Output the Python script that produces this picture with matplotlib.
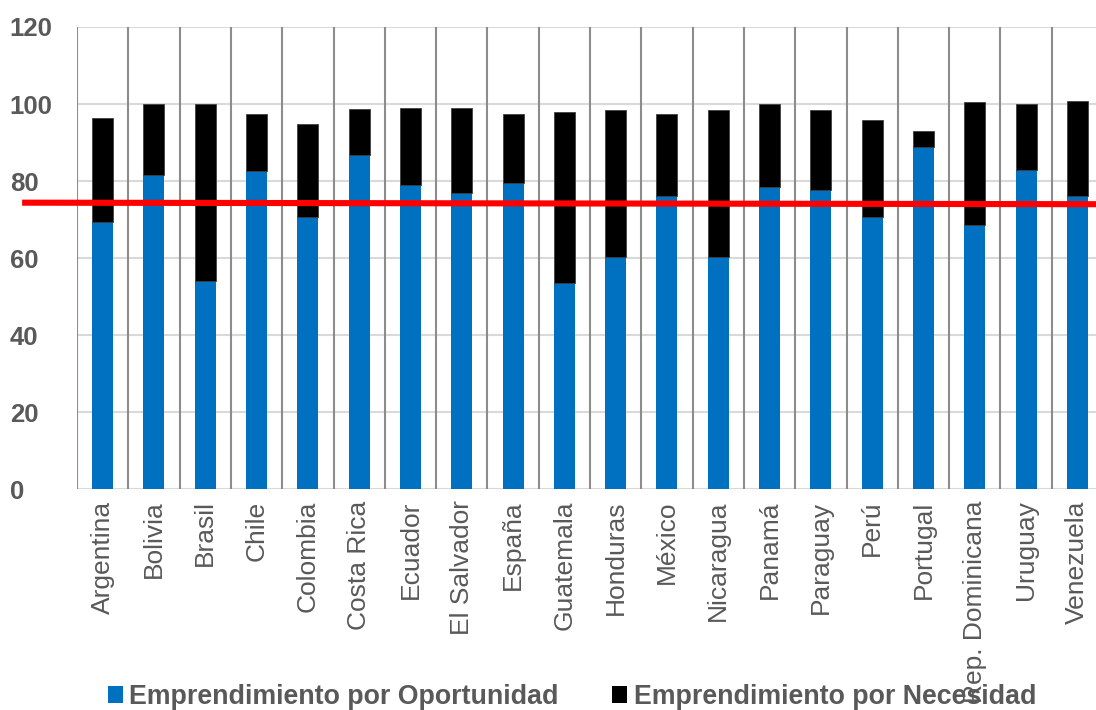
import matplotlib
matplotlib.use("Agg")
import matplotlib.pyplot as plt
from matplotlib.patches import Patch

plt.rcParams['font.family'] = ['Liberation Sans', 'DejaVu Sans']

paises = ["Argentina", "Bolivia", "Brasil", "Chile", "Colombia", "Costa Rica",
          "Ecuador", "El Salvador", "España", "Guatemala", "Honduras", "México",
          "Nicaragua", "Panamá", "Paraguay", "Perú", "Portugal",
          "Rep. Dominicana", "Uruguay", "Venezuela"]
oportunidad = [69.5, 81.6, 54.0, 82.7, 70.8, 86.9, 79.1, 77.0, 79.6, 53.5,
               60.2, 76.2, 60.2, 78.4, 77.6, 70.8, 88.9, 68.6, 83.0, 76.1]
necesidad = [26.9, 18.4, 46.0, 14.7, 24.0, 11.9, 20.0, 22.0, 17.7, 44.5,
             38.2, 21.1, 38.2, 21.5, 20.8, 25.1, 4.1, 31.9, 16.9, 24.6]
promedio = [74.4, 74.0]  # reference line, left end / right end
yticks = [0, 20, 40, 60, 80, 100, 120]

gris = "#595959"
azul = "#0070C0"

fig = plt.figure(figsize=(10.96, 7.10), dpi=100)
ax = fig.add_axes([77 / 1096, 220.7 / 710, 1026 / 1096, 462.3 / 710])

x = list(range(len(paises)))
ax.bar(x, oportunidad, width=0.41, color=azul, zorder=3)
ax.bar(x, necesidad, bottom=oportunidad, width=0.41, color="black",
       edgecolor="#404040", linewidth=0.6, zorder=3)

ax.set_xlim(-0.5, len(paises) - 0.5)
ax.set_ylim(0, 120)
ax.set_yticks(yticks)
ax.set_yticklabels([str(v) for v in yticks], fontsize=18.5, fontweight="bold",
                   color=gris, ha="left")
ax.tick_params(axis="y", length=0, pad=48.5)
ax.set_xticks(x)
ax.set_xticklabels(paises, rotation=90, fontsize=19, color=gris, va="top")
ax.tick_params(axis="x", length=0, pad=8)

for s in ax.spines.values():
    s.set_visible(False)

# horizontal gridlines (light) and category separators (dark)
for v in yticks:
    ax.axhline(v, color="#d9d9d9", linewidth=1.5, zorder=1)
for i in range(len(paises) + 1):
    ax.axvline(i - 0.5, color="#8c8c8c", linewidth=1.5, zorder=2)

# average line drawn across the chart
ax.plot([-1.57, len(paises) - 0.5], promedio, color="#FF0000", linewidth=4.4,
        solid_capstyle="butt", clip_on=False, zorder=5)

handles = [Patch(facecolor=azul, edgecolor="none"),
           Patch(facecolor="black", edgecolor="none")]
leg = fig.legend(handles, ["Emprendimiento por Oportunidad",
                           "Emprendimiento por Necesidad"],
                 loc="center", bbox_to_anchor=(0.522, 0.019), ncol=2,
                 frameon=False, handlelength=0.55, handleheight=0.6,
                 handletextpad=0.25, columnspacing=2.0,
                 prop={"size": 19.3, "weight": "bold"})
for t in leg.get_texts():
    t.set_color(gris)

fig.savefig("out.png", dpi=100)
